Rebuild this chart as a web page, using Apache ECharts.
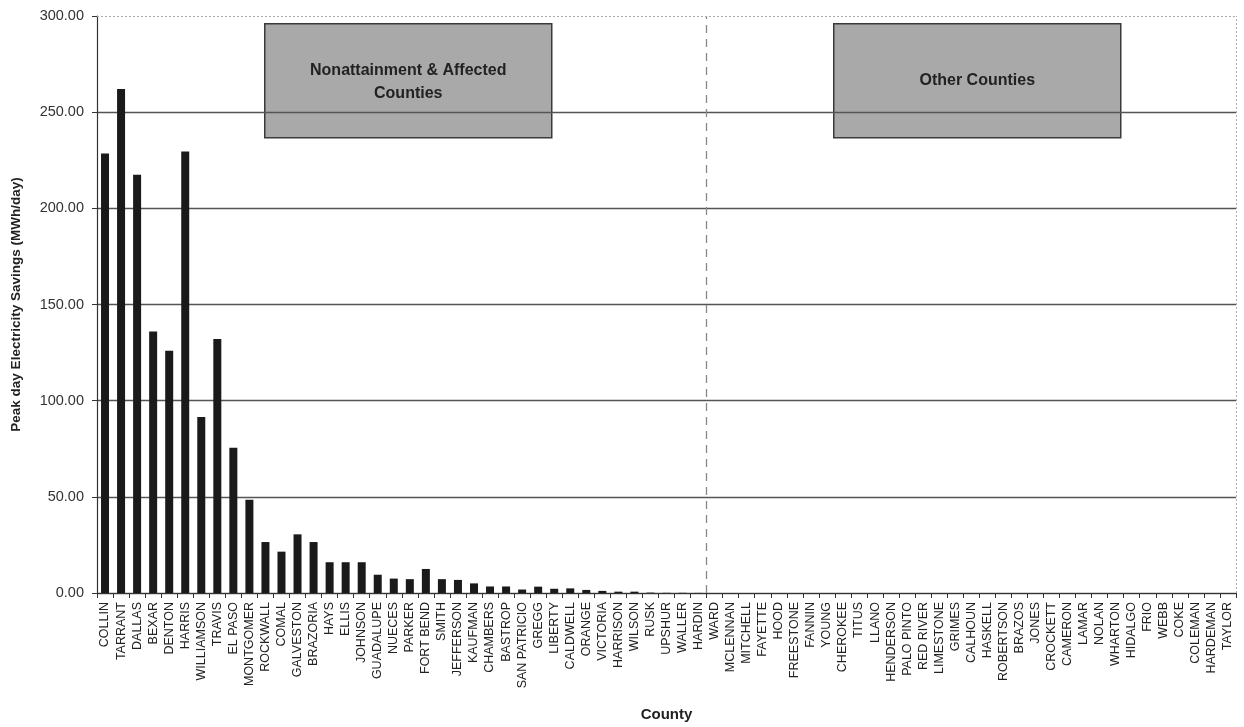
<!DOCTYPE html>
<html>
<head>
<meta charset="utf-8">
<script src="https://cdn.jsdelivr.net/npm/echarts@6/dist/echarts.min.js"></script>
<style>
html,body{margin:0;padding:0;background:#fff;}
#chart{width:1244px;height:727px;}
</style>
</head>
<body>
<div id="chart"></div>
<script>
const counties = ["COLLIN","TARRANT","DALLAS","BEXAR","DENTON","HARRIS","WILLIAMSON","TRAVIS","EL PASO","MONTGOMER","ROCKWALL","COMAL","GALVESTON","BRAZORIA","HAYS","ELLIS","JOHNSON","GUADALUPE","NUECES","PARKER","FORT BEND","SMITH","JEFFERSON","KAUFMAN","CHAMBERS","BASTROP","SAN PATRICIO","GREGG","LIBERTY","CALDWELL","ORANGE","VICTORIA","HARRISON","WILSON","RUSK","UPSHUR","WALLER","HARDIN","WARD","MCLENNAN","MITCHELL","FAYETTE","HOOD","FREESTONE","FANNIN","YOUNG","CHEROKEE","TITUS","LLANO","HENDERSON","PALO PINTO","RED RIVER","LIMESTONE","GRIMES","CALHOUN","HASKELL","ROBERTSON","BRAZOS","JONES","CROCKETT","CAMERON","LAMAR","NOLAN","WHARTON","HIDALGO","FRIO","WEBB","COKE","COLEMAN","HARDEMAN","TAYLOR"];

const savings = [228.5,262,217.5,136,126,229.5,91.5,132,75.5,48.5,26.5,21.5,30.5,26.5,16,16,16,9.5,7.5,7.2,12.5,7.2,6.8,5,3.4,3.4,1.8,3.3,2.2,2.4,1.6,1.1,0.7,0.7,0.2,0.1,0.1,0.05,0,0,0,0,0,0,0,0,0,0,0,0,0,0,0,0,0,0,0,0,0,0,0,0,0,0,0,0,0,0,0,0,0];

const yTicks = [0,50,100,150,200,250,300];
const groupBoundary = 38;   // between HARDIN and WARD
const groupLabels = ["Nonattainment & Affected\nCounties", "Other Counties"];

const FONT = "'Liberation Sans', Arial, sans-serif";
const chart = echarts.init(document.getElementById('chart'));

const option = {
  backgroundColor: '#ffffff',
  animation: false,
  textStyle: {fontFamily: FONT},
  grid: {left: 97, right: 8, top: 16, bottom: 134},
  xAxis: [{
    type: 'category',
    data: counties,
    name: 'County',
    nameLocation: 'middle',
    nameGap: 114,
    nameTextStyle: {fontFamily: FONT, fontSize: 15, fontWeight: 'bold', color: '#222'},
    axisLine: {lineStyle: {color: '#333', width: 1.2}},
    axisTick: {show: true, length: 5, lineStyle: {color: '#333'}},
    axisLabel: {interval: 0, rotate: 90, fontSize: 12.5, color: '#222', margin: 9, fontFamily: FONT},
    splitLine: {show: false}
  }, {
    type: 'value',
    min: 0,
    max: counties.length,
    show: false
  }],
  yAxis: {
    type: 'value',
    min: yTicks[0],
    max: yTicks[yTicks.length - 1],
    interval: 50,
    name: 'Peak day Electricity Savings (MWh/day)',
    nameLocation: 'middle',
    nameGap: 74,
    nameTextStyle: {fontFamily: FONT, fontSize: 13.5, fontWeight: 'bold', color: '#222'},
    axisLine: {show: true, lineStyle: {color: '#333', width: 1.2}},
    axisTick: {show: true, length: 5, lineStyle: {color: '#333'}},
    axisLabel: {fontSize: 14.5, color: '#333', margin: 13, fontFamily: FONT,
      formatter: v => v.toFixed(2)},
    splitLine: {show: true, lineStyle: {color: ['#555','#555','#555','#555','#555','#555','rgba(0,0,0,0)'], width: 1.3}}
  },
  series: [{
    type: 'bar',
    data: savings,
    barWidth: 8,
    itemStyle: {color: '#1a1a1a'},
    z: 3
  }, {
    type: 'line',
    xAxisIndex: 1,
    yAxisIndex: 0,
    data: [],
    markLine: {
      silent: true,
      symbol: ['none', 'none'],
      label: {show: false},
      data: [
        {xAxis: groupBoundary, lineStyle: {color: '#888', type: [8, 6], width: 1.3}},
        {xAxis: counties.length, lineStyle: {color: '#aaa', type: [2, 2], width: 1}},
        {yAxis: yTicks[yTicks.length - 1], lineStyle: {color: '#aaa', type: [2, 2], width: 1}}
      ]
    }
  }],
  graphic: [{
    type: 'group',
    left: 264, top: 23,
    z: 10,
    children: [{
      type: 'rect',
      shape: {x: 0, y: 0, width: 287, height: 114},
      style: {fill: '#a9a9a9', stroke: '#3a3a3a', lineWidth: 1.5}
    }, {
      type: 'text',
      x: 143.5, y: 58,
      style: {text: groupLabels[0], fill: '#222', font: "bold 16px 'Liberation Sans', Arial, sans-serif",
        align: 'center', verticalAlign: 'middle', lineHeight: 23}
    }]
  }, {
    type: 'group',
    left: 833, top: 23,
    z: 10,
    children: [{
      type: 'rect',
      shape: {x: 0, y: 0, width: 287, height: 114},
      style: {fill: '#a9a9a9', stroke: '#3a3a3a', lineWidth: 1.5}
    }, {
      type: 'text',
      x: 143.5, y: 57,
      style: {text: groupLabels[1], fill: '#222', font: "bold 16px 'Liberation Sans', Arial, sans-serif",
        align: 'center', verticalAlign: 'middle'}
    }]
  }]
};
chart.setOption(option);
</script>
</body>
</html>
